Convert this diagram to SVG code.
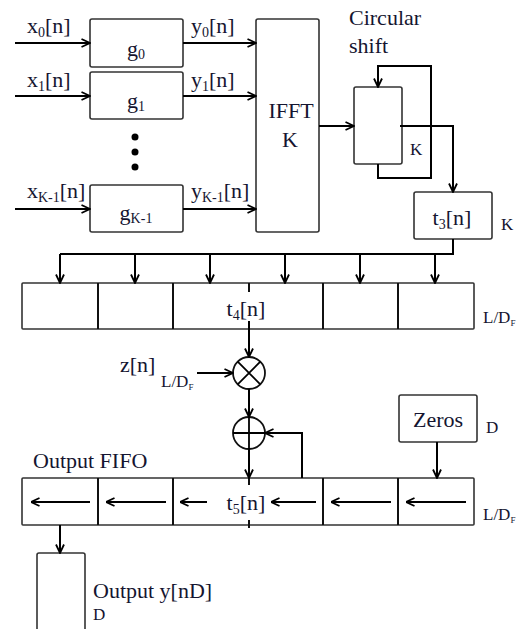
<svg xmlns="http://www.w3.org/2000/svg" width="525" height="629" viewBox="0 0 525 629">
<style>
text{font-family:"Liberation Serif","Times New Roman",serif;fill:#151530;font-size:22px}
.s{font-size:17px}
.box{fill:#fff;stroke:#333;stroke-width:1.6}
.ln{fill:none;stroke:#000;stroke-width:2}
.dv{stroke:#111;stroke-width:2}
.cir{fill:#fff;stroke:#111;stroke-width:1.8}
</style>
<defs>
<marker id="ah" viewBox="0 0 10 10" refX="9.5" refY="5" markerWidth="10" markerHeight="10" markerUnits="userSpaceOnUse" orient="auto">
<path d="M1,1 L9.5,5 L1,9" fill="none" stroke="#000" stroke-width="1.8"/>
</marker>
</defs>
<rect width="525" height="629" fill="#fff"/>

<g id="g0"><rect class="box" x="90" y="19" width="93" height="48" rx="2"/><text x="136" y="56" text-anchor="middle">g<tspan font-size="14" dy="3">0</tspan></text></g>
<g id="g1"><rect class="box" x="90" y="72" width="93" height="47" rx="2"/><text x="136" y="108" text-anchor="middle">g<tspan font-size="14" dy="3">1</tspan></text></g>
<g id="dots"><circle cx="135" cy="137" r="3.5" fill="#000"/><circle cx="135" cy="152" r="3.5" fill="#000"/><circle cx="135" cy="167" r="3.5" fill="#000"/></g>
<g id="gK1"><rect class="box" x="90" y="185" width="93" height="47" rx="2"/><text x="136" y="220" text-anchor="middle">g<tspan font-size="14" dy="3">K-1</tspan></text></g>

<g id="inlabels">
<text x="27" y="33">x<tspan font-size="14" dy="4">0</tspan><tspan dy="-4">[n]</tspan></text>
<text x="27" y="87">x<tspan font-size="14" dy="4">1</tspan><tspan dy="-4">[n]</tspan></text>
<text x="27" y="198">x<tspan font-size="14" dy="4">K-1</tspan><tspan dy="-4">[n]</tspan></text>
<text x="191" y="33">y<tspan font-size="14" dy="4">0</tspan><tspan dy="-4">[n]</tspan></text>
<text x="191" y="87">y<tspan font-size="14" dy="4">1</tspan><tspan dy="-4">[n]</tspan></text>
<text x="191" y="198">y<tspan font-size="14" dy="4">K-1</tspan><tspan dy="-4">[n]</tspan></text>
</g>

<g id="ifft"><rect class="box" x="256" y="19" width="63" height="213" rx="2"/><text x="291" y="118" text-anchor="middle">IFFT</text><text x="290" y="147" text-anchor="middle">K</text></g>

<g id="cshift"><text x="349" y="25" font-size="23">Circular</text><text x="349" y="53" font-size="23">shift</text>
<rect class="box" x="354" y="87" width="48" height="77" rx="2"/><text class="s" x="410" y="155">K</text></g>

<g id="t3"><rect class="box" x="414" y="192" width="78" height="47" rx="2"/><text x="452" y="225" text-anchor="middle">t<tspan font-size="14" dy="4">3</tspan><tspan dy="-4">[n]</tspan></text><text class="s" x="501" y="230">K</text></g>

<g id="t4"><rect class="box" x="22" y="283" width="452" height="46" rx="1"/>
<line class="dv" x1="98" y1="283" x2="98" y2="329"/><line class="dv" x1="173" y1="283" x2="173" y2="329"/><line class="dv" x1="323" y1="283" x2="323" y2="329"/><line class="dv" x1="398" y1="283" x2="398" y2="329"/>
<line class="dv" x1="249" y1="283" x2="249" y2="292"/>
<text x="246" y="316" text-anchor="middle">t<tspan font-size="14" dy="4">4</tspan><tspan dy="-4">[n]</tspan></text>
<text class="s" x="483" y="323">L/D<tspan font-size="9" dy="3">F</tspan></text></g>

<g id="mult"><circle class="cir" cx="249" cy="373" r="16"/><path class="ln" style="stroke-width:1.8" d="M237.7,361.7 L260.3,384.3 M260.3,361.7 L237.7,384.3"/></g>
<g id="zlabel"><text x="120" y="372">z[n]</text><text class="s" x="161" y="387">L/D<tspan font-size="9" dy="3">F</tspan></text></g>

<g id="adder"><circle class="cir" cx="249" cy="433" r="16"/><path class="ln" style="stroke-width:1.8" d="M233,433 H265 M249,417 V449"/></g>

<g id="zeros"><rect class="box" x="399" y="395" width="78" height="47" rx="2"/><text x="438" y="427" text-anchor="middle">Zeros</text><text class="s" x="486" y="433">D</text></g>

<g id="fifo"><text x="33" y="468">Output FIFO</text>
<rect class="box" x="22" y="478" width="452" height="47" rx="1"/>
<line class="dv" x1="98" y1="478" x2="98" y2="525"/><line class="dv" x1="173" y1="478" x2="173" y2="525"/><line class="dv" x1="323" y1="478" x2="323" y2="525"/><line class="dv" x1="398" y1="478" x2="398" y2="525"/>
<line class="dv" x1="249" y1="478" x2="249" y2="485"/><line class="dv" x1="249" y1="520" x2="249" y2="528"/>
<text x="246" y="510" text-anchor="middle">t<tspan font-size="14" dy="4">5</tspan><tspan dy="-4">[n]</tspan></text>
<text class="s" x="483" y="520">L/D<tspan font-size="9" dy="3">F</tspan></text>
<line class="ln" x1="90" y1="502" x2="31" y2="502" marker-end="url(#ah)"/>
<line class="ln" x1="166" y1="502" x2="106" y2="502" marker-end="url(#ah)"/>
<line class="ln" x1="207" y1="502" x2="180" y2="502" marker-end="url(#ah)"/>
<line class="ln" x1="316" y1="502" x2="271" y2="502" marker-end="url(#ah)"/>
<line class="ln" x1="391" y1="502" x2="331" y2="502" marker-end="url(#ah)"/>
<line class="ln" x1="466" y1="502" x2="406" y2="502" marker-end="url(#ah)"/>
</g>

<g id="output"><path class="box" d="M37,640 V555 Q37,553 39,553 H83 Q85,553 85,555 V640"/><text x="93" y="598">Output y[nD]</text><text class="s" x="93" y="620">D</text></g>

<g id="connectors">
<line class="ln" x1="15" y1="43" x2="90" y2="43" marker-end="url(#ah)"/>
<line class="ln" x1="15" y1="96" x2="90" y2="96" marker-end="url(#ah)"/>
<line class="ln" x1="15" y1="209" x2="90" y2="209" marker-end="url(#ah)"/>
<line class="ln" x1="183" y1="43" x2="256" y2="43" marker-end="url(#ah)"/>
<line class="ln" x1="183" y1="96" x2="256" y2="96" marker-end="url(#ah)"/>
<line class="ln" x1="183" y1="209" x2="256" y2="209" marker-end="url(#ah)"/>
<line class="ln" x1="319" y1="126" x2="354" y2="126" marker-end="url(#ah)"/>
<path class="ln" d="M378,164 V178 H431 V66 H378 V87" marker-end="url(#ah)"/>
<path class="ln" d="M400,126 H453 V192" marker-end="url(#ah)"/>
<path class="ln" d="M453,239 V254 H60"/>
<line class="ln" x1="60" y1="254" x2="60" y2="283" marker-end="url(#ah)"/>
<line class="ln" x1="135" y1="254" x2="135" y2="283" marker-end="url(#ah)"/>
<line class="ln" x1="210" y1="254" x2="210" y2="283" marker-end="url(#ah)"/>
<line class="ln" x1="285" y1="254" x2="285" y2="283" marker-end="url(#ah)"/>
<line class="ln" x1="360" y1="254" x2="360" y2="283" marker-end="url(#ah)"/>
<line class="ln" x1="435" y1="254" x2="435" y2="283" marker-end="url(#ah)"/>
<line class="ln" x1="249" y1="321" x2="249" y2="357" marker-end="url(#ah)"/>
<line class="ln" x1="197" y1="373" x2="233" y2="373" marker-end="url(#ah)"/>
<line class="ln" x1="249" y1="389" x2="249" y2="417" marker-end="url(#ah)"/>
<line class="ln" x1="249" y1="449" x2="249" y2="478" marker-end="url(#ah)"/>
<path class="ln" d="M302,478 V433 H265" marker-end="url(#ah)"/>
<line class="ln" x1="437" y1="442" x2="437" y2="478" marker-end="url(#ah)"/>
<line class="ln" x1="60" y1="525" x2="60" y2="553" marker-end="url(#ah)"/>
</g>
</svg>
